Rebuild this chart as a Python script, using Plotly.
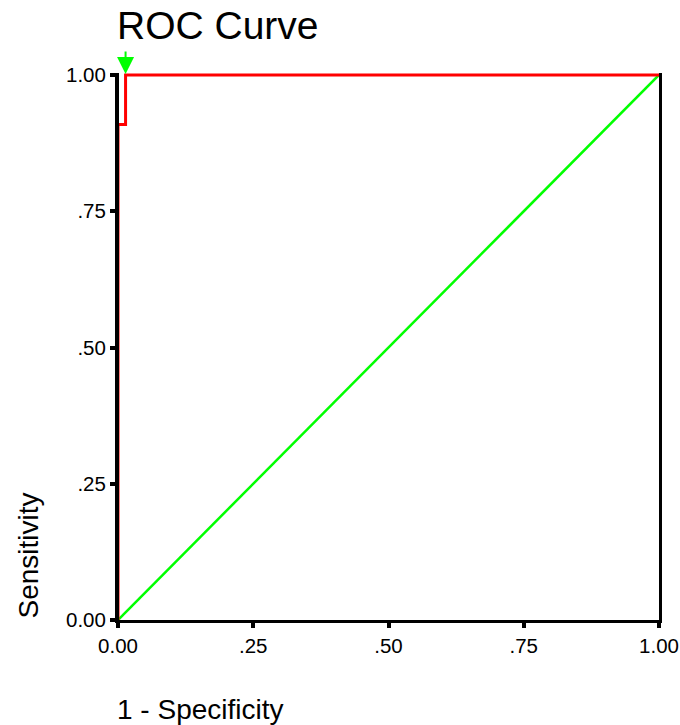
import plotly.graph_objects as go

# ROC curve data (1 - specificity, sensitivity)
fpr = [0.0, 0.0, 0.014, 0.014, 1.0]
tpr = [0.0, 0.909, 0.909, 1.0, 1.0]
# reference (chance) line
ref_x = [0.0, 1.0]
ref_y = [0.0, 1.0]
# optimal cut-off point index (marked with the arrow)
opt_idx = 3

tick_vals = [0.0, 0.25, 0.50, 0.75, 1.0]
tick_text = ["0.00", ".25", ".50", ".75", "1.00"]

FONT = "Liberation Sans, Arial, sans-serif"

fig = go.Figure()
fig.add_trace(go.Scatter(x=ref_x, y=ref_y, mode="lines",
                         line=dict(color="#00ff00", width=2.5),
                         showlegend=False, hoverinfo="skip"))
fig.add_trace(go.Scatter(x=fpr, y=tpr, mode="lines", cliponaxis=False,
                         line=dict(color="#ff0000", width=3),
                         showlegend=False))

axis_common = dict(
    showgrid=False, zeroline=False, automargin=False,
    showline=True, linecolor="black", linewidth=3,
    ticks="outside", ticklen=5, tickwidth=4, tickcolor="black",
    tickvals=tick_vals, ticktext=tick_text,
    tickfont=dict(family=FONT, size=20.5, color="black"),
    fixedrange=True,
)
fig.update_xaxes(range=[0, 1], layer="below traces", mirror=False, **axis_common)
# a little headroom so the curve's top segment is not clipped
fig.update_yaxes(range=[0, 1.00367], layer="above traces", mirror=True, **axis_common)

# left frame edge drawn over the curve (as in the reference)
fig.add_shape(type="line", xref="paper", yref="paper", x0=0, x1=0, y0=0, y1=1,
              line=dict(color="black", width=2), layer="above")

fig.add_annotation(text="ROC Curve", xref="paper", yref="paper", x=0, y=1,
                   xanchor="left", yanchor="bottom", xshift=-3, yshift=24,
                   showarrow=False, font=dict(family=FONT, size=39, color="black"))
fig.add_annotation(text="Sensitivity", xref="paper", yref="paper",
                   x=-0.1655, y=0, xanchor="center", yanchor="bottom",
                   textangle=-90, showarrow=False,
                   font=dict(family=FONT, size=28, color="black"))
fig.add_annotation(text="1 - Specificity", xref="paper", yref="paper",
                   x=0, y=-0.1645, xanchor="left", yanchor="middle", xshift=-3,
                   showarrow=False, font=dict(family=FONT, size=28, color="black"))
fig.add_annotation(x=fpr[opt_idx], y=tpr[opt_idx], xref="x", yref="y",
                   text="", showarrow=True, ax=0, ay=-25,
                   arrowhead=2, arrowwidth=2, arrowsize=1.7,
                   arrowcolor="#00ff00", standoff=1)

fig.update_layout(
    width=680, height=725,
    margin=dict(l=118, r=21, t=73, b=105, autoexpand=False),
    paper_bgcolor="white", plot_bgcolor="white",
    font=dict(family=FONT, color="black"),
    showlegend=False,
)

fig.write_html("out.html", config={"displayModeBar": False},
               post_script="document.body.style.margin='0px';"
                           "document.body.style.overflow='hidden';")
